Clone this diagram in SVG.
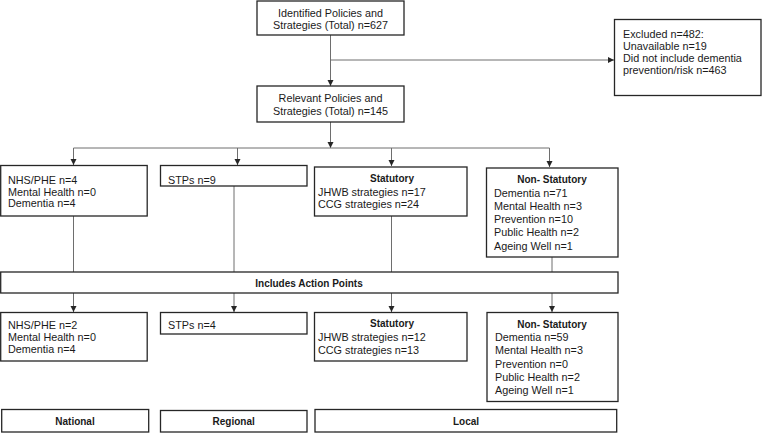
<svg xmlns="http://www.w3.org/2000/svg" width="762" height="433" viewBox="0 0 762 433">
<style>
.box{fill:#fff;stroke:#262626;stroke-width:1.3}
.t{font-family:"Liberation Sans",Arial,sans-serif;font-size:10.8px;fill:#1a1a1a}
.b{font-family:"Liberation Sans",Arial,sans-serif;font-size:10px;font-weight:bold;fill:#1a1a1a;text-anchor:middle}
.c{text-anchor:middle}
.ln{fill:none;stroke:#6e6e6e;stroke-width:1}
</style>
<defs>
<marker id="ah" markerUnits="userSpaceOnUse" markerWidth="7" markerHeight="7" refX="6" refY="3" orient="auto">
<path d="M0,0 L6,3 L0,6 z" fill="#262626"/>
</marker>
</defs>
<rect width="762" height="433" fill="#fff"/>
<g id="connectors">
<line class="ln" x1="330.5" y1="35" x2="330.5" y2="86" marker-end="url(#ah)"/>
<line class="ln" x1="330.5" y1="60" x2="614" y2="60" marker-end="url(#ah)"/>
<line class="ln" x1="330.5" y1="122" x2="330.5" y2="148" marker-end="url(#ah)"/>
<line class="ln" x1="73.5" y1="148" x2="549.5" y2="148"/>
<line class="ln" x1="73.5" y1="148" x2="73.5" y2="165" marker-end="url(#ah)"/>
<line class="ln" x1="237.5" y1="148" x2="237.5" y2="165" marker-end="url(#ah)"/>
<line class="ln" x1="391.5" y1="148" x2="391.5" y2="166" marker-end="url(#ah)"/>
<line class="ln" x1="549.5" y1="148" x2="549.5" y2="167" marker-end="url(#ah)"/>
<line class="ln" x1="73.5" y1="216" x2="73.5" y2="272"/>
<line class="ln" x1="234" y1="186" x2="234" y2="272"/>
<line class="ln" x1="391.5" y1="216" x2="391.5" y2="272"/>
<line class="ln" x1="552" y1="257" x2="552" y2="272"/>
<line class="ln" x1="73.5" y1="293" x2="73.5" y2="312" marker-end="url(#ah)"/>
<line class="ln" x1="234" y1="293" x2="234" y2="312" marker-end="url(#ah)"/>
<line class="ln" x1="391.5" y1="293" x2="391.5" y2="312" marker-end="url(#ah)"/>
<line class="ln" x1="552" y1="293" x2="552" y2="312" marker-end="url(#ah)"/>
</g>
<g id="identified">
<rect class="box" x="257" y="1" width="147" height="34"/>
<text class="t c" x="330.5" y="16.5">Identified Policies and</text>
<text class="t c" x="330.5" y="29">Strategies (Total) n=627</text>
</g>
<g id="excluded">
<rect class="box" x="614.5" y="19.5" width="146.5" height="76"/>
<text class="t" x="623" y="37.5">Excluded n=482:</text>
<text class="t" x="623" y="49.5">Unavailable n=19</text>
<text class="t" x="623" y="61.5">Did not include dementia</text>
<text class="t" x="623" y="74">prevention/risk n=463</text>
</g>
<g id="relevant">
<rect class="box" x="257" y="86" width="147" height="36"/>
<text class="t c" x="330.5" y="102">Relevant Policies and</text>
<text class="t c" x="330.5" y="115">Strategies (Total) n=145</text>
</g>
<g id="nhs1">
<rect class="box" x="0.7" y="165.5" width="146.5" height="50.5"/>
<text class="t" x="8" y="184">NHS/PHE n=4</text>
<text class="t" x="8" y="195.5">Mental Health n=0</text>
<text class="t" x="8" y="207">Dementia n=4</text>
</g>
<g id="stps1">
<rect class="box" x="160.5" y="165.5" width="146.5" height="20.5"/>
<text class="t" x="168" y="184">STPs n=9</text>
</g>
<g id="statutory1">
<rect class="box" x="314.5" y="167" width="152.5" height="49"/>
<text class="b" x="392" y="182">Statutory</text>
<text class="t" x="318" y="195.5">JHWB strategies n=17</text>
<text class="t" x="318" y="208">CCG strategies n=24</text>
</g>
<g id="nonstatutory1">
<rect class="box" x="486.5" y="168" width="131.5" height="89"/>
<text class="b" x="552" y="183">Non- Statutory</text>
<text class="t" x="494" y="196.5">Dementia n=71</text>
<text class="t" x="494" y="209.5">Mental Health n=3</text>
<text class="t" x="494" y="223">Prevention n=10</text>
<text class="t" x="494" y="236">Public Health n=2</text>
<text class="t" x="494" y="250">Ageing Well n=1</text>
</g>
<g id="actionpoints">
<rect class="box" x="0.7" y="272" width="617.3" height="21"/>
<text class="b" x="309" y="286.5">Includes Action Points</text>
</g>
<g id="nhs2">
<rect class="box" x="0.7" y="312.5" width="146.5" height="48.5"/>
<text class="t" x="8" y="329">NHS/PHE n=2</text>
<text class="t" x="8" y="340.5">Mental Health n=0</text>
<text class="t" x="8" y="353">Dementia n=4</text>
</g>
<g id="stps2">
<rect class="box" x="160.5" y="312.5" width="146.5" height="21.5"/>
<text class="t" x="168" y="329">STPs n=4</text>
</g>
<g id="statutory2">
<rect class="box" x="314.5" y="312.5" width="152.5" height="48.5"/>
<text class="b" x="392" y="327">Statutory</text>
<text class="t" x="318" y="340.5">JHWB strategies n=12</text>
<text class="t" x="318" y="354">CCG strategies n=13</text>
</g>
<g id="nonstatutory2">
<rect class="box" x="487" y="312.5" width="131" height="89"/>
<text class="b" x="552" y="327.5">Non- Statutory</text>
<text class="t" x="495" y="341">Dementia n=59</text>
<text class="t" x="495" y="354">Mental Health n=3</text>
<text class="t" x="495" y="367.5">Prevention n=0</text>
<text class="t" x="495" y="381">Public Health n=2</text>
<text class="t" x="495" y="394">Ageing Well n=1</text>
</g>
<g id="national">
<rect class="box" x="1.7" y="409.5" width="147" height="22.5"/>
<text class="b" x="75" y="424.5">National</text>
</g>
<g id="regional">
<rect class="box" x="160.5" y="410.5" width="146.5" height="21.5"/>
<text class="b" x="233.7" y="425">Regional</text>
</g>
<g id="local">
<rect class="box" x="315" y="409.5" width="301.7" height="22.5"/>
<text class="b" x="466" y="424.5">Local</text>
</g>
</svg>
